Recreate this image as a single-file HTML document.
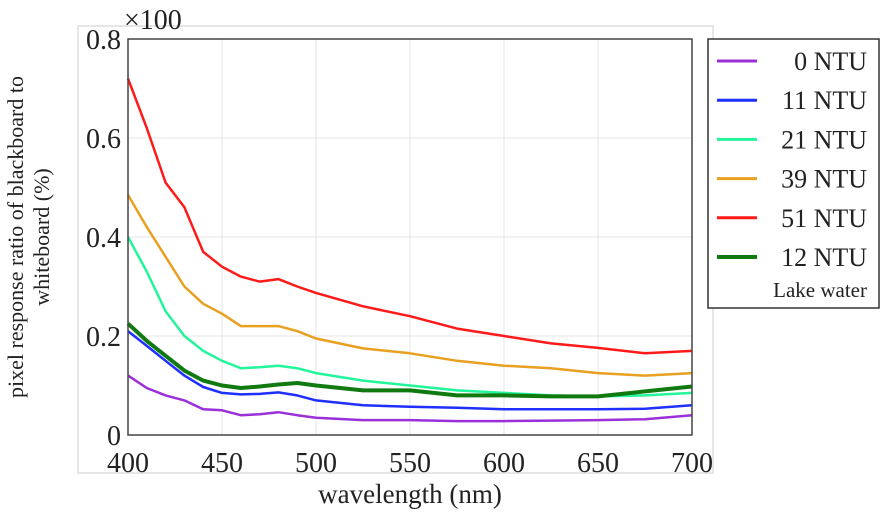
<!DOCTYPE html>
<html><head><meta charset="utf-8"><style>
body{margin:0;background:#fff;width:886px;height:516px;overflow:hidden}
text{font-family:"Liberation Serif","DejaVu Serif",serif !important;fill:#222}
</style></head><body>
<svg id="chart" width="886" height="516" viewBox="0 0 886 516" xmlns="http://www.w3.org/2000/svg" font-family="Liberation Serif, serif">
<rect x="78" y="26" width="635" height="447" fill="none" stroke="#ddd" stroke-width="1.5"/>
<g id="grid"></g>
<g id="series"></g>
<rect x="128" y="39" width="564" height="396" fill="none" stroke="#444" stroke-width="1.5"/>
<g id="ticks"></g>
<text x="124" y="29" font-size="28">×100</text>
<text x="410" y="503" font-size="27" text-anchor="middle">wavelength (nm)</text>
<g transform="translate(23,237) rotate(-90)">
<text x="0" y="0" font-size="22" text-anchor="middle">pixel response ratio of blackboard to</text>
<text x="0" y="26" font-size="22" text-anchor="middle">whiteboard (%)</text>
</g>
<g id="legend">
<rect x="708" y="39" width="171" height="269" fill="#fff" stroke="#333" stroke-width="1.5"/>
</g>
</svg>
<script>
const wavelengths=[400,410,420,430,440,450,460,470,480,490,500,525,550,575,600,625,650,675,700];
const s0=[0.12,0.095,0.08,0.07,0.052,0.05,0.04,0.042,0.046,0.04,0.035,0.03,0.03,0.028,0.028,0.029,0.03,0.032,0.04];
const s11=[0.21,0.18,0.15,0.12,0.097,0.085,0.082,0.083,0.086,0.08,0.07,0.06,0.057,0.055,0.052,0.052,0.052,0.053,0.06];
const s21=[0.40,0.33,0.25,0.20,0.17,0.15,0.135,0.137,0.14,0.135,0.125,0.11,0.10,0.09,0.085,0.08,0.078,0.08,0.085];
const s39=[0.485,0.42,0.36,0.30,0.265,0.245,0.22,0.22,0.22,0.21,0.195,0.175,0.165,0.15,0.14,0.135,0.125,0.12,0.125];
const s51=[0.72,0.62,0.51,0.46,0.37,0.34,0.32,0.31,0.315,0.30,0.287,0.26,0.24,0.215,0.20,0.185,0.176,0.165,0.17];
const s12=[0.225,0.19,0.16,0.13,0.11,0.10,0.095,0.098,0.102,0.105,0.10,0.09,0.09,0.08,0.08,0.078,0.078,0.088,0.098];
const xTicks=[400,450,500,550,600,650,700];
const yTicks=[0,0.2,0.4,0.6,0.8];
const yTickLabels=["0","0.2","0.4","0.6","0.8"];
const seriesNames=["0 NTU","11 NTU","21 NTU","39 NTU","51 NTU","12 NTU"];
const seriesColors=["#9b30d9","#1f2fff","#22f59a","#e8a020","#ff1a1a","#107a10"];
const seriesData=[s0,s11,s21,s39,s51,s12];

const NS="http://www.w3.org/2000/svg";
function xs(v){return 128+(v-400)/300*564;}
function ys(v){return 435-v/0.8*396;}
function mk(tag,attrs,parent){const e=document.createElementNS(NS,tag);for(const k in attrs)e.setAttribute(k,attrs[k]);parent.appendChild(e);return e;}
const grid=document.getElementById('grid'),ticks=document.getElementById('ticks'),ser=document.getElementById('series'),leg=document.getElementById('legend');
xTicks.forEach(t=>{
  const l=mk('line',{x1:xs(t),x2:xs(t),y1:39,y2:435,stroke:'#e4e4e4','stroke-width':1},grid);
  
  
  const tx=mk('text',{x:xs(t),y:472,'font-size':28,'text-anchor':'middle'},ticks);
  tx.textContent=t;
  
  
});
yTicks.forEach((t,i)=>{
  const l=mk('line',{x1:128,x2:692,y1:ys(t),y2:ys(t),stroke:'#e4e4e4','stroke-width':1},grid);
  
  
  const tx=mk('text',{x:121,y:ys(t)+10,'font-size':28,'text-anchor':'end'},ticks);
  tx.textContent=yTickLabels[i];
  
  
});
seriesData.forEach((d,i)=>{
  const pts=d.map((v,j)=>xs(wavelengths[j]).toFixed(1)+','+ys(v).toFixed(1)).join(' ');
  const p=mk('polyline',{points:pts,fill:'none',stroke:seriesColors[i],'stroke-width':i==5?4:2.5,'stroke-linejoin':'round'},ser);
  
  
  const y=61+i*39.2;
  const ll=mk('line',{x1:717,x2:757,y1:y,y2:y,stroke:seriesColors[i],'stroke-width':i==5?4:3},leg);
  
  
  const lt=mk('text',{x:867,y:y+9,'font-size':26,'text-anchor':'end'},leg);
  lt.textContent=seriesNames[i];
  
  
});
const lw=mk('text',{x:867,y:297,'font-size':21,'text-anchor':'end'},leg);
lw.textContent='Lake water';


</script>
</body></html>
